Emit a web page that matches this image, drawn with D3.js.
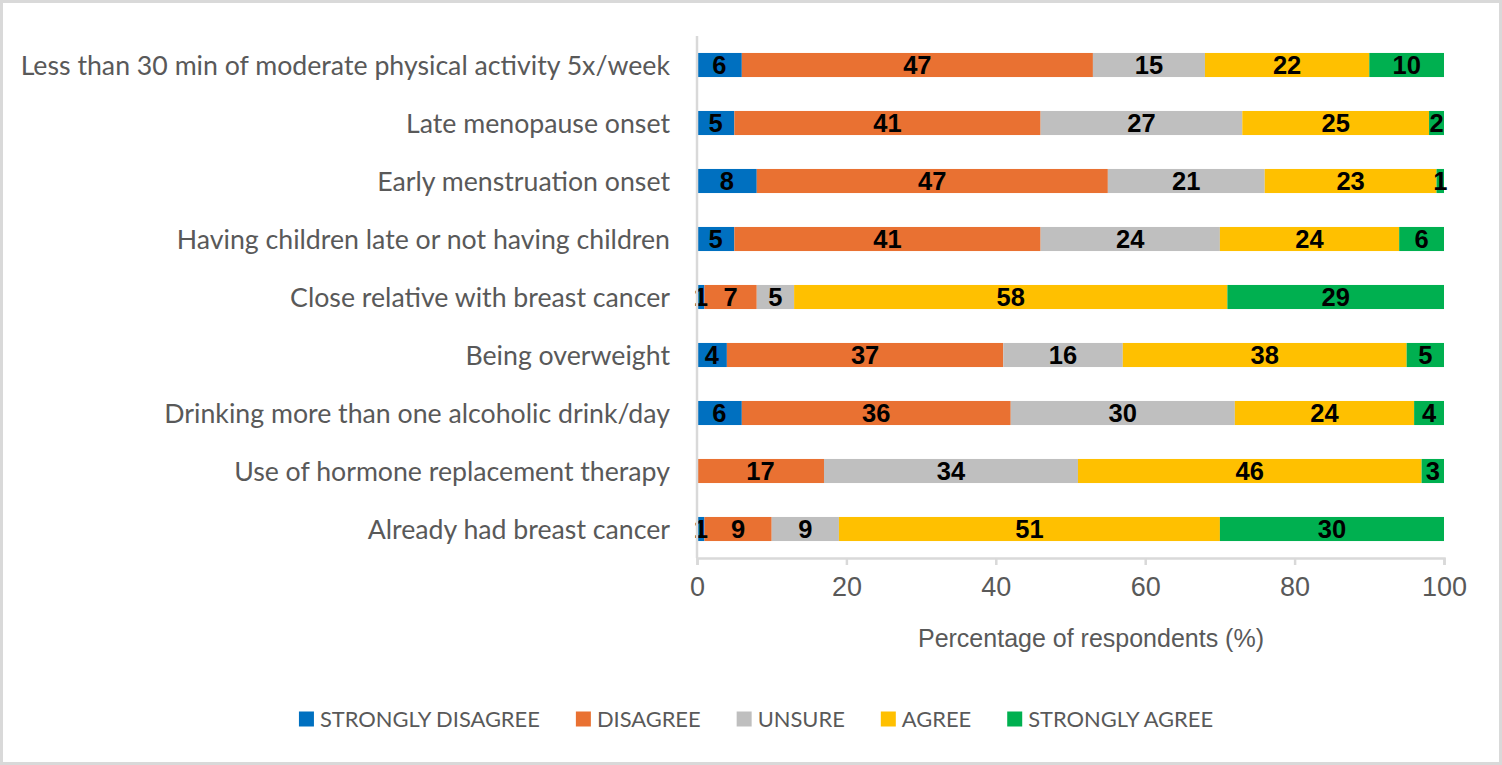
<!DOCTYPE html>
<html>
<head>
<meta charset="utf-8">
<script src="https://cdn.jsdelivr.net/npm/d3@7"></script>
<style>
  body { margin: 0; background: #fff; }
</style>
</head>
<body>
<script>
// categories top to bottom
var categories = [
  "Less than 30 min of moderate physical activity 5x/week",
  "Late menopause onset",
  "Early menstruation onset",
  "Having children late or not having children",
  "Close relative with breast cancer",
  "Being overweight",
  "Drinking more than one alcoholic drink/day",
  "Use of hormone replacement therapy",
  "Already had breast cancer"
];
var seriesNames = ["STRONGLY DISAGREE", "DISAGREE", "UNSURE", "AGREE", "STRONGLY AGREE"];
var stronglyDisagree = [6, 5, 8, 5, 1, 4, 6, 0, 1];
var disagree         = [47, 41, 47, 41, 7, 37, 36, 17, 9];
var unsure           = [15, 27, 21, 24, 5, 16, 30, 34, 9];
var agree            = [22, 25, 23, 24, 58, 38, 24, 46, 51];
var stronglyAgree    = [10, 2, 1, 6, 29, 5, 4, 3, 30];
var xTicks = [0, 20, 40, 60, 80, 100];
var colors = ["#0070C0", "#E97132", "#BFBFBF", "#FFC000", "#00B050"];

var W = 1502, H = 765;
var svg = d3.select("body").append("svg")
  .attr("width", W)
  .attr("height", H)

svg.append("rect")
  .attr("x", 1.5).attr("y", 1.5)
  .attr("width", W - 3).attr("height", H - 3)
  .attr("fill", "#fff")
  .attr("stroke", "#d9d9d9")
  .attr("stroke-width", 3)

var x = d3.scaleLinear().domain([0, 100]).range([697, 1444])
var y = d3.scaleBand().domain(categories).range([36, 558]).paddingInner(0.585).paddingOuter(0.2925)

var rows = categories.map(function(c, i) {
  return {cat: c, v: [stronglyDisagree[i], disagree[i], unsure[i], agree[i], stronglyAgree[i]]}
})
var stack = d3.stack().keys([0, 1, 2, 3, 4]).value(function(d, k) { return d.v[k] })
var layers = stack(rows)

// bars
var g = svg.append("g")
layers.forEach(function(layer, k) {
  g.selectAll(".s" + k)
    .data(layer)
    .enter().append("rect")
    .attr("x", function(d) { return x(d[0]) })
    .attr("y", function(d) { return y(d.data.cat) })
    .attr("width", function(d) { return x(d[1]) - x(d[0]) })
    .attr("height", y.bandwidth())
    .attr("fill", colors[k])
})

// data labels
layers.forEach(function(layer, k) {
  g.selectAll(".l" + k)
    .data(layer.filter(function(d) { return d[1] - d[0] > 0 }))
    .enter().append("text")
    .attr("x", function(d) { return (x(d[0]) + x(d[1])) / 2 })
    .attr("y", function(d) { return y(d.data.cat) + y.bandwidth() / 2 })
    .attr("dy", "0.36em")
    .attr("text-anchor", "middle")
    .attr("font-family", "Liberation Sans, Arial, sans-serif")
    .attr("font-weight", "bold")
    .attr("font-size", 25.5)
    .attr("fill", "#000")
    .text(function(d) { return d[1] - d[0] })
})

// axes lines
svg.append("line")
  .attr("x1", x(0)).attr("x2", x(0))
  .attr("y1", 36).attr("y2", 558)
  .attr("stroke", "#d9d9d9").attr("stroke-width", 2.5)

var xAxis = svg.append("g")
  .attr("transform", "translate(0,558)")
  .call(d3.axisBottom(x).tickValues(xTicks).tickSize(7).tickPadding(12))
xAxis.select(".domain").attr("stroke", "#d9d9d9").attr("stroke-width", 2.5)
xAxis.selectAll(".tick line").attr("stroke", "#d9d9d9").attr("stroke-width", 2.5)
xAxis.selectAll("text")
  .attr("font-family", "Liberation Sans, Arial, sans-serif")
  .attr("font-size", 27)
  .attr("fill", "#595959")

svg.append("text")
  .attr("x", 1091).attr("y", 647)
  .attr("text-anchor", "middle")
  .attr("font-family", "Liberation Sans, Arial, sans-serif")
  .attr("font-size", 25)
  .attr("fill", "#595959")
  .text("Percentage of respondents (%)")

// category labels
svg.append("g").selectAll("text")
  .data(categories)
  .enter().append("text")
  .attr("x", 670)
  .attr("y", function(d) { return y(d) + y.bandwidth() / 2 })
  .attr("dy", "0.36em")
  .attr("text-anchor", "end")
  .attr("font-family", "Lato, sans-serif")
  .attr("font-size", 26.7)
  .attr("fill", "#595959")
  .text(function(d) { return d })

// legend
var legend = svg.append("g")
var lx = 0
var items = seriesNames.map(function(name, k) {
  var it = legend.append("g")
  it.append("rect").attr("x", 0).attr("y", -7.5).attr("width", 15).attr("height", 15).attr("fill", colors[k])
  var t = it.append("text")
    .attr("x", 21).attr("dy", "0.36em")
    .attr("font-family", "Lato, sans-serif")
    .attr("font-size", 21.9)
    .attr("fill", "#595959")
    .text(name)
  var w = 21 + t.node().getComputedTextLength()
  it.attr("transform", "translate(" + lx + ",0)")
  lx += w + 36
  return it
})
var total = lx - 36
legend.attr("transform", "translate(" + (756 - total / 2) + ",719)")
</script>
</body>
</html>
